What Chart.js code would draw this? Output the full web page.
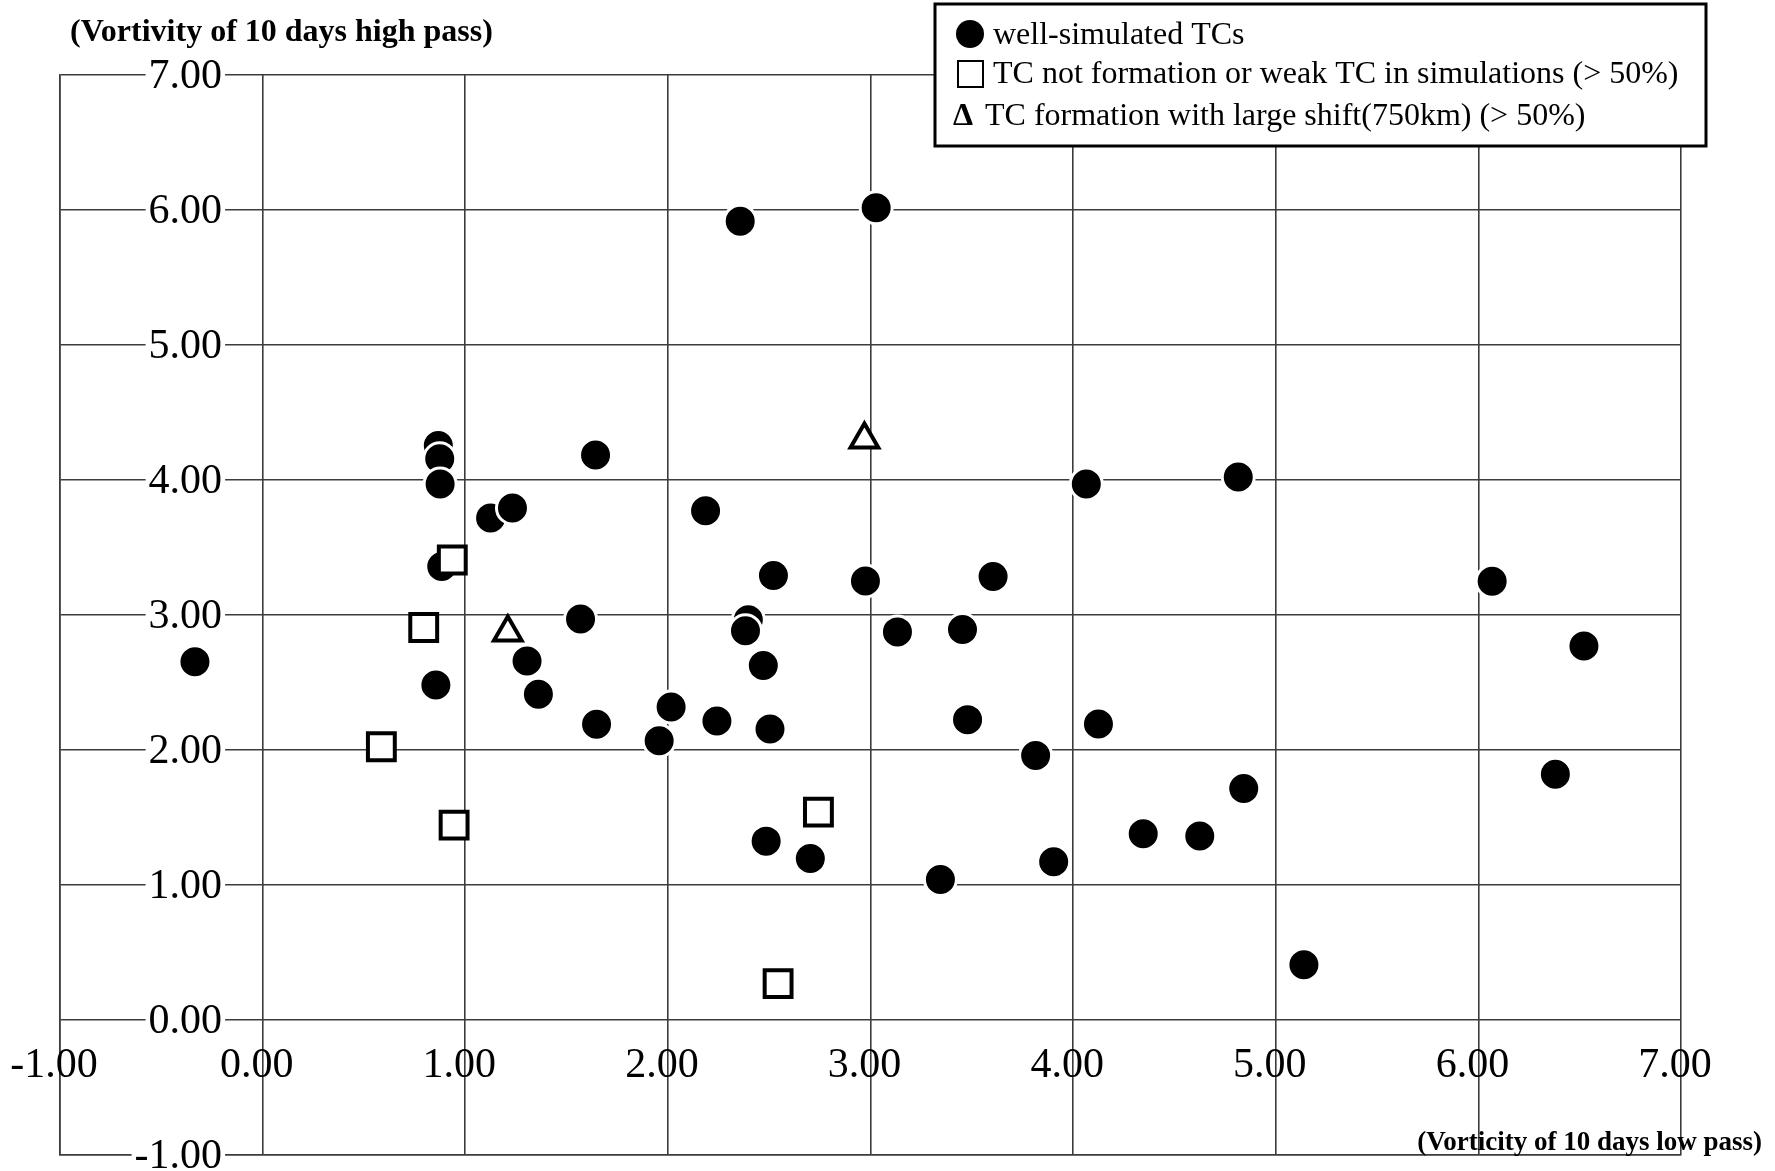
<!DOCTYPE html>
<html lang="en">
<head>
  <meta charset="utf-8">
  <title>Vorticity high pass vs low pass</title>
  <script src="https://cdn.jsdelivr.net/npm/chart.js@4.4.1/dist/chart.umd.min.js"></script>
  <style>
    body {
      padding: 0;
      margin: 0;
      background: #fff;
    }
  </style>
</head>
<body>
  <canvas id="chart" width="1775" height="1171"></canvas>
  <script>
    // well-simulated TCs (filled circles)
    const wellX = [-0.334, 0.867, 0.874, 0.876, 0.884, 0.855, 1.125, 1.233, 1.305, 1.361,
                   1.643, 1.569, 1.648, 1.957, 2.016, 2.186, 2.242, 2.357, 2.397, 2.383,
                   2.471, 2.521, 2.504, 2.485, 2.703, 3.028, 2.975, 3.133, 3.345, 3.454,
                   3.479, 3.605, 3.815, 3.904, 4.065, 4.125, 4.346, 4.625, 4.815, 4.842,
                   5.139, 6.068, 6.380, 6.521];
    const wellY = [2.653, 4.255, 4.157, 3.971, 3.360, 2.482, 3.719, 3.793, 2.659, 2.413,
                   4.186, 2.970, 2.190, 2.069, 2.319, 3.773, 2.215, 5.917, 2.964, 2.883,
                   2.626, 3.293, 2.156, 1.325, 1.197, 6.016, 3.251, 2.875, 1.041, 2.892,
                   2.225, 3.286, 1.960, 1.173, 3.971, 2.193, 1.380, 1.363, 4.023, 1.714,
                   0.409, 3.250, 1.820, 2.770];

    // TC not formation or weak TC (open squares)
    const weakX = [0.936, 0.795, 0.586, 0.945, 2.743, 2.544];
    const weakY = [3.407, 2.907, 2.024, 1.444, 1.540, 0.269];

    // TC formation with large shift (open triangles)
    const shiftX = [2.970, 1.210];
    const shiftY = [4.300, 2.870];

    const seriesNames = [
      'well-simulated TCs',
      'TC not formation or weak TC in simulations (> 50%)',
      'TC formation with large shift(750km) (> 50%)'
    ];
    const yTitle = '(Vortivity of 10 days high pass)';
    const xTitle = '(Vorticity of 10 days low pass)';

    const axisMin = -1;
    const axisMax = 7;
    // where the tick labels sit inside the plot
    const yLabelRightAtX = -0.2;
    const xLabelAtY = -0.34;

    const toPoints = (xs, ys) => xs.map((x, i) => ({ x: x, y: ys[i] }));
    const serif = '"Liberation Serif", "Times New Roman", serif';
    const gridColor = '#3c3c3c';

    const tickText = {
      id: 'tickText',
      beforeDatasetsDraw(chart) {
        const ctx = chart.ctx;
        const xs = chart.scales.x;
        const ys = chart.scales.y;
        ctx.save();
        ctx.font = '42px ' + serif;
        ctx.textBaseline = 'middle';

        // y labels sit on their grid line, right aligned
        ctx.textAlign = 'right';
        const lx = xs.getPixelForValue(yLabelRightAtX);
        ys.ticks.forEach(t => {
          const py = ys.getPixelForValue(t.value);
          const s = t.value.toFixed(2);
          const w = ctx.measureText(s).width;
          ctx.fillStyle = '#fff';
          ctx.fillRect(lx - w - 3, py - 3, w + 6, 6);
          ctx.fillStyle = '#000';
          ctx.fillText(s, lx, py + 2);
        });

        // x labels cross the vertical grid lines
        ctx.textAlign = 'center';
        const ly = ys.getPixelForValue(xLabelAtY);
        xs.ticks.forEach(t => {
          ctx.fillText(t.value.toFixed(2), xs.getPixelForValue(t.value) - 6, ly);
        });
        ctx.restore();
      }
    };

    const extras = {
      id: 'extras',
      afterDraw(chart) {
        const ctx = chart.ctx;
        ctx.save();
        ctx.fillStyle = '#000';
        ctx.textBaseline = 'middle';

        // axis titles
        ctx.font = 'bold 32px ' + serif;
        ctx.textAlign = 'left';
        ctx.fillText(yTitle, 70, 33);
        ctx.font = 'bold 27px ' + serif;
        ctx.textAlign = 'right';
        ctx.fillText(xTitle, 1762, 1143);

        // legend box
        ctx.fillStyle = '#fff';
        ctx.fillRect(935, 4, 771, 142);
        ctx.lineWidth = 3;
        ctx.strokeStyle = '#000';
        ctx.strokeRect(935, 4, 771, 142);

        ctx.fillStyle = '#000';
        ctx.beginPath();
        ctx.arc(970, 34, 14, 0, Math.PI * 2);
        ctx.fill();

        ctx.lineWidth = 2;
        ctx.strokeRect(958, 61, 25, 26);

        ctx.textAlign = 'left';
        ctx.font = 'bold 32px ' + serif;
        ctx.fillText('\u0394', 953, 117);

        ctx.font = '32px ' + serif;
        ctx.fillText(seriesNames[0], 993, 36);
        ctx.fillText(seriesNames[1], 993, 75);
        ctx.fillText(seriesNames[2], 985, 117);
        ctx.restore();
      }
    };

    const axis = {
      type: 'linear',
      min: axisMin,
      max: axisMax,
      ticks: { stepSize: 1, display: false },
      grid: { color: gridColor, lineWidth: 1.6, drawTicks: false },
      border: { color: gridColor, width: 1.6 }
    };

    new Chart(document.getElementById('chart'), {
      type: 'scatter',
      data: {
        datasets: [
          {
            label: seriesNames[0],
            data: toPoints(wellX, wellY),
            pointStyle: 'circle',
            pointRadius: 16,
            pointBackgroundColor: '#000',
            pointBorderColor: '#fff',
            pointBorderWidth: 3,
            order: 3
          },
          {
            label: seriesNames[1],
            data: toPoints(weakX, weakY),
            pointStyle: 'rect',
            pointRadius: 19,
            pointBackgroundColor: '#fff',
            pointBorderColor: '#000',
            pointBorderWidth: 4,
            order: 1
          },
          {
            label: seriesNames[2],
            data: toPoints(shiftX, shiftY),
            pointStyle: 'triangle',
            pointRadius: 16,
            pointBackgroundColor: '#fff',
            pointBorderColor: '#000',
            pointBorderWidth: 4,
            order: 2
          }
        ]
      },
      options: {
        responsive: false,
        animation: false,
        layout: { autoPadding: false, padding: { left: 60, top: 75, right: 94, bottom: 16 } },
        plugins: {
          legend: { display: false },
          tooltip: { enabled: false }
        },
        scales: {
          x: axis,
          y: Object.assign({}, axis)
        }
      },
      plugins: [tickText, extras]
    });
  </script>
</body>
</html>
